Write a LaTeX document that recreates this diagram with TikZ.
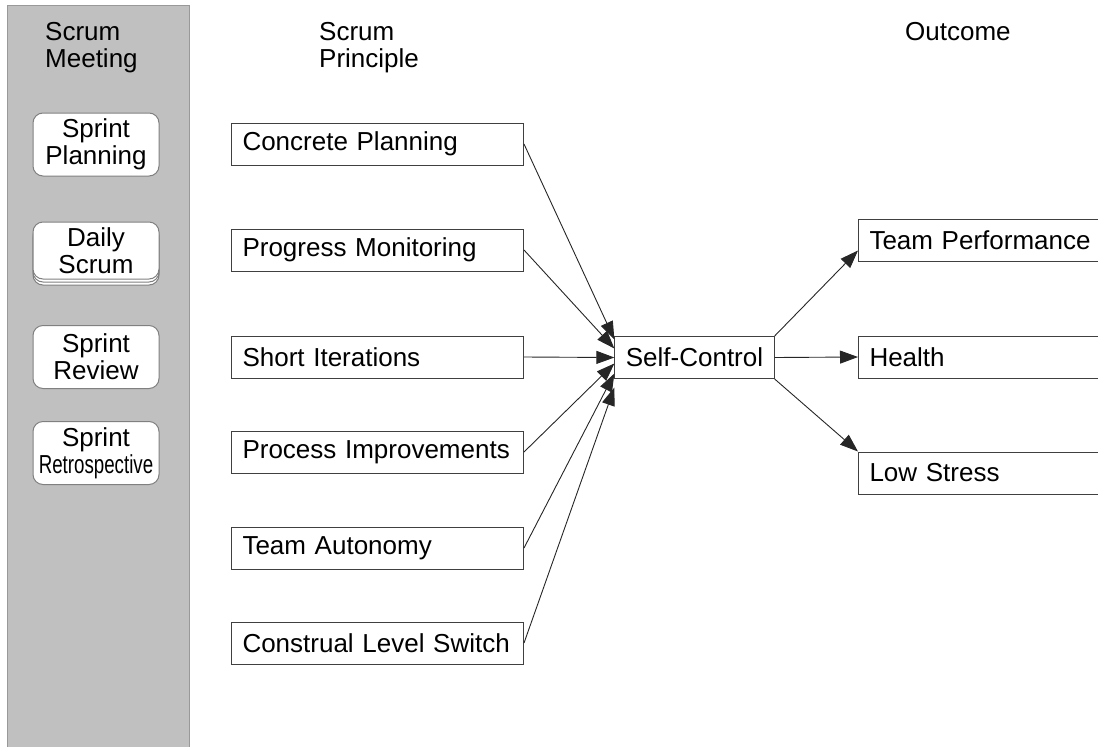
\documentclass[tikz,border=0pt]{standalone}
\usepackage{fontspec}
\setmainfont{Liberation Sans}
\usepackage{graphicx}
\usepackage{tikz}
\usetikzlibrary{arrows.meta}
\usetikzlibrary{shadows}

\definecolor{panelgray}{HTML}{C0C0C0}
\definecolor{edgegray}{HTML}{404040}

\begin{document}
\begin{tikzpicture}[x=1pt,y=-1pt,
    font=\fontsize{26}{27}\selectfont,
    meeting/.style={draw=gray, fill=white, rounded corners=10pt, line width=1pt,
        minimum width=126pt, minimum height=63pt, align=center, inner sep=0pt},
    principle/.style={draw=edgegray, fill=white, line width=1pt,
        minimum height=42pt, text width=270pt, inner xsep=11pt, align=left},
    outcome/.style={principle, text width=230pt},
    link/.style={draw=black!85, line width=0.9pt, -{Triangle[length=18pt,width=13pt]}},
    heading/.style={align=left, anchor=base west, inner sep=0pt}]
    \useasboundingbox (0,0) rectangle (1098,747);

    % meeting column
    \fill[panelgray] (7,5) rectangle (189,760);
    \draw[gray!80, line width=1pt] (7,760) -- (7,5) -- (189,5) -- (189,760);
    \node [heading] (hmeet) at (45,67) {Scrum\\Meeting};
    \node [meeting] (sprp) at (96,144.5) {Sprint\\Planning};
    \node [meeting, minimum height=57pt,
        double copy shadow={shadow xshift=0pt, shadow yshift=-3pt, draw=gray, fill=white}]
        (daily) at (96,250.5) {Daily\\Scrum};
    \node [meeting] (sprv) at (96,357) {Sprint\\Review};
    \node [meeting] (sprr) at (96,453) {Sprint\\\scalebox{0.72}[1]{Retrospective}};

    % principles
    \node [heading] (hprin) at (319,67) {Scrum\\Principle};
    \node [principle, anchor=west] (cp) at (231,144) {Concrete Planning};
    \node [principle, anchor=west] (pm) at (231,250) {Progress Monitoring};
    \node [principle, anchor=west] (si) at (231,357) {Short Iterations};
    \node [principle, anchor=west] (pi) at (231,452) {Process Improvements};
    \node [principle, anchor=west] (ta) at (231,548) {Team Autonomy};
    \node [principle, anchor=west] (cl) at (231,643) {Construal Level Switch};

    % mediator and outcomes
    \node [draw=edgegray, fill=white, line width=1pt, minimum height=42pt, inner xsep=11pt]
        (sc) at (694.5,357.5) {Self-Control};
    \node [heading] (hout) at (905,40) {Outcome};
    \node [outcome, anchor=west] (tp) at (858,240) {Team Performance};
    \node [outcome, anchor=west] (he) at (858,357) {Health};
    \node [outcome, anchor=west] (ls) at (858,473) {Low Stress};

    \draw [link] (cp.east) -- ([yshift=18pt]sc.west);
    \draw [link] (pm.east) -- ([yshift=9pt]sc.west);
    \draw [link] (si.east) -- (sc.west);
    \draw [link] (pi.east) -- ([yshift=-6pt]sc.west);
    \draw [link] (ta.east) -- ([yshift=-16pt]sc.west);
    \draw [link] (cl.east) -- ([yshift=-30pt]sc.west);

    \draw [link] (sc.north east) -- ([yshift=11pt]tp.south west);
    \draw [link] (sc.east) -- (he.west);
    \draw [link] (sc.south east) -- (ls.north west);
\end{tikzpicture}
\end{document}
